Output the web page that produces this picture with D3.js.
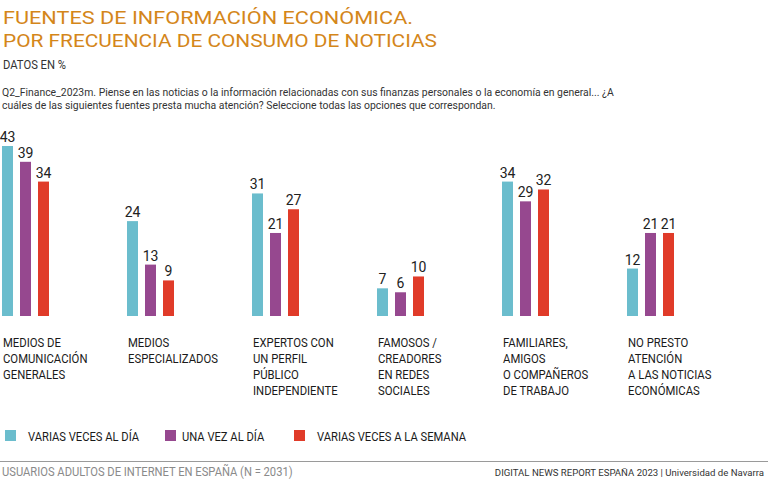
<!DOCTYPE html>
<html>
<head>
<meta charset="utf-8">
<script src="https://cdn.jsdelivr.net/npm/d3@7"></script>
<style>
  html, body { margin: 0; padding: 0; background: #fff; }
  svg { display: block; }
</style>
</head>
<body>
<svg id="chart" width="768" height="490"></svg>
<script>
const categories = [
  ["MEDIOS DE", "COMUNICACIÓN", "GENERALES"],
  ["MEDIOS", "ESPECIALIZADOS"],
  ["EXPERTOS CON", "UN PERFIL", "PÚBLICO", "INDEPENDIENTE"],
  ["FAMOSOS /", "CREADORES", "EN REDES", "SOCIALES"],
  ["FAMILIARES,", "AMIGOS", "O COMPAÑEROS", "DE TRABAJO"],
  ["NO PRESTO", "ATENCIÓN", "A LAS NOTICIAS", "ECONÓMICAS"]
];
const seriesNames = ["VARIAS VECES AL DÍA", "UNA VEZ AL DÍA", "VARIAS VECES A LA SEMANA"];
const seriesColors = ["#6bbdcd", "#96488f", "#e03b29"];
const variasVecesAlDia = [43, 24, 31, 7, 34, 12];
const unaVezAlDia = [39, 13, 21, 6, 29, 21];
const variasVecesSemana = [34, 9, 27, 10, 32, 21];
const seriesValues = [variasVecesAlDia, unaVezAlDia, variasVecesSemana];

const svg = d3.select("#chart");
const font = "'Roboto', 'Liberation Sans', sans-serif";

// squeeze text horizontally to mimic the condensed typeface
function condense(sel, f) {
  sel.each(function () {
    const w = this.getComputedTextLength();
    d3.select(this).attr("textLength", w * f).attr("lengthAdjust", "spacingAndGlyphs");
  });
}
function fitTo(sel, width) {
  sel.attr("textLength", width).attr("lengthAdjust", "spacingAndGlyphs");
}

// Title
const titleLines = ["FUENTES DE INFORMACIÓN ECONÓMICA.", "POR FRECUENCIA DE CONSUMO DE NOTICIAS"];
const titleWidths = [410, 434];
titleLines.forEach((t, i) => {
  svg.append("text").attr("x", 3).attr("y", 23.5 + i * 23).attr("fill", "#d4861a")
    .style("font-family", font).style("font-weight", 400).style("font-size", "19px")
    .text(t).call(fitTo, titleWidths[i]);
});

svg.append("text").attr("x", 3).attr("y", 69).attr("fill", "#333")
  .style("font-family", font).style("font-size", "12.5px").text("DATOS EN %")
  .call(fitTo, 63);

const qLines = [
  "Q2_Finance_2023m. Piense en las noticias o la información relacionadas con sus finanzas personales o la economía en general... ¿A",
  "cuáles de las siguientes fuentes presta mucha atención? Seleccione todas las opciones que correspondan."
];
qLines.forEach((t, i) => {
  svg.append("text").attr("x", 2).attr("y", 96 + i * 13).attr("fill", "#333")
    .style("font-family", font).style("font-size", "11.5px").text(t)
    .call(condense, 0.905);
});

// Scales
const catIdx = d3.range(categories.length);
const x0 = d3.scaleBand().domain(catIdx).range([2, 752]).padding(0);
const x1 = d3.scaleBand().domain(d3.range(seriesNames.length)).range([0, 47])
  .paddingInner(3 - 47 / 18).paddingOuter(0);
const y = d3.scaleLinear().domain([0, 43]).range([316, 146]);

const groups = svg.append("g").selectAll("g").data(catIdx).join("g")
  .attr("transform", i => `translate(${x0(i)},0)`);

groups.selectAll("rect")
  .data(i => seriesValues.map((vals, s) => ({ s, v: vals[i] })))
  .join("rect")
  .attr("x", d => x1(d.s))
  .attr("width", x1.bandwidth())
  .attr("y", d => y(d.v))
  .attr("height", d => y(0) - y(d.v))
  .attr("fill", d => seriesColors[d.s]);

groups.selectAll("text.val")
  .data(i => seriesValues.map((vals, s) => ({ s, v: vals[i] })))
  .join("text")
  .attr("class", "val")
  .attr("x", d => x1(d.s) + x1.bandwidth() / 2)
  .attr("y", d => y(d.v) - 4)
  .attr("text-anchor", "middle")
  .attr("fill", "#222")
  .style("font-family", font)
  .style("font-size", "14px")
  .text(d => d.v);

// Category labels
groups.selectAll("text.cat")
  .data(i => categories[i])
  .join("text")
  .attr("class", "cat")
  .attr("x", 1).attr("y", (d, k) => 347 + k * 16)
  .attr("fill", "#1a1a1a")
  .style("font-family", font).style("font-size", "13px")
  .text(d => d)
  .call(condense, 0.87);

// Legend
const legendX = [5, 165, 294];
const legendTextDx = [23, 17, 23];
const legend = svg.append("g").selectAll("g").data(seriesNames).join("g")
  .attr("transform", (d, i) => `translate(${legendX[i]},430)`);
legend.append("rect").attr("width", 11).attr("height", 11).attr("fill", (d, i) => seriesColors[i]);
legend.append("text").attr("x", (d, i) => legendTextDx[i]).attr("y", 10.5)
  .attr("fill", "#1a1a1a")
  .style("font-family", font).style("font-size", "13px").text(d => d)
  .call(condense, 0.86);

// Footer
svg.append("line").attr("x1", 0).attr("x2", 768).attr("y1", 461.5).attr("y2", 461.5)
  .attr("stroke", "#9a9a9a").attr("stroke-width", 1.2);
svg.append("text").attr("x", 2).attr("y", 476).attr("fill", "#8a8a8a")
  .style("font-family", font).style("font-size", "13px")
  .text("USUARIOS ADULTOS DE INTERNET EN ESPAÑA (N = 2031)")
  .call(condense, 0.86);
svg.append("text").attr("x", 764).attr("y", 476).attr("fill", "#333")
  .attr("text-anchor", "end")
  .style("font-family", font).style("font-size", "9.6px")
  .text("DIGITAL NEWS REPORT ESPAÑA 2023 | Universidad de Navarra");
</script>
</body>
</html>
